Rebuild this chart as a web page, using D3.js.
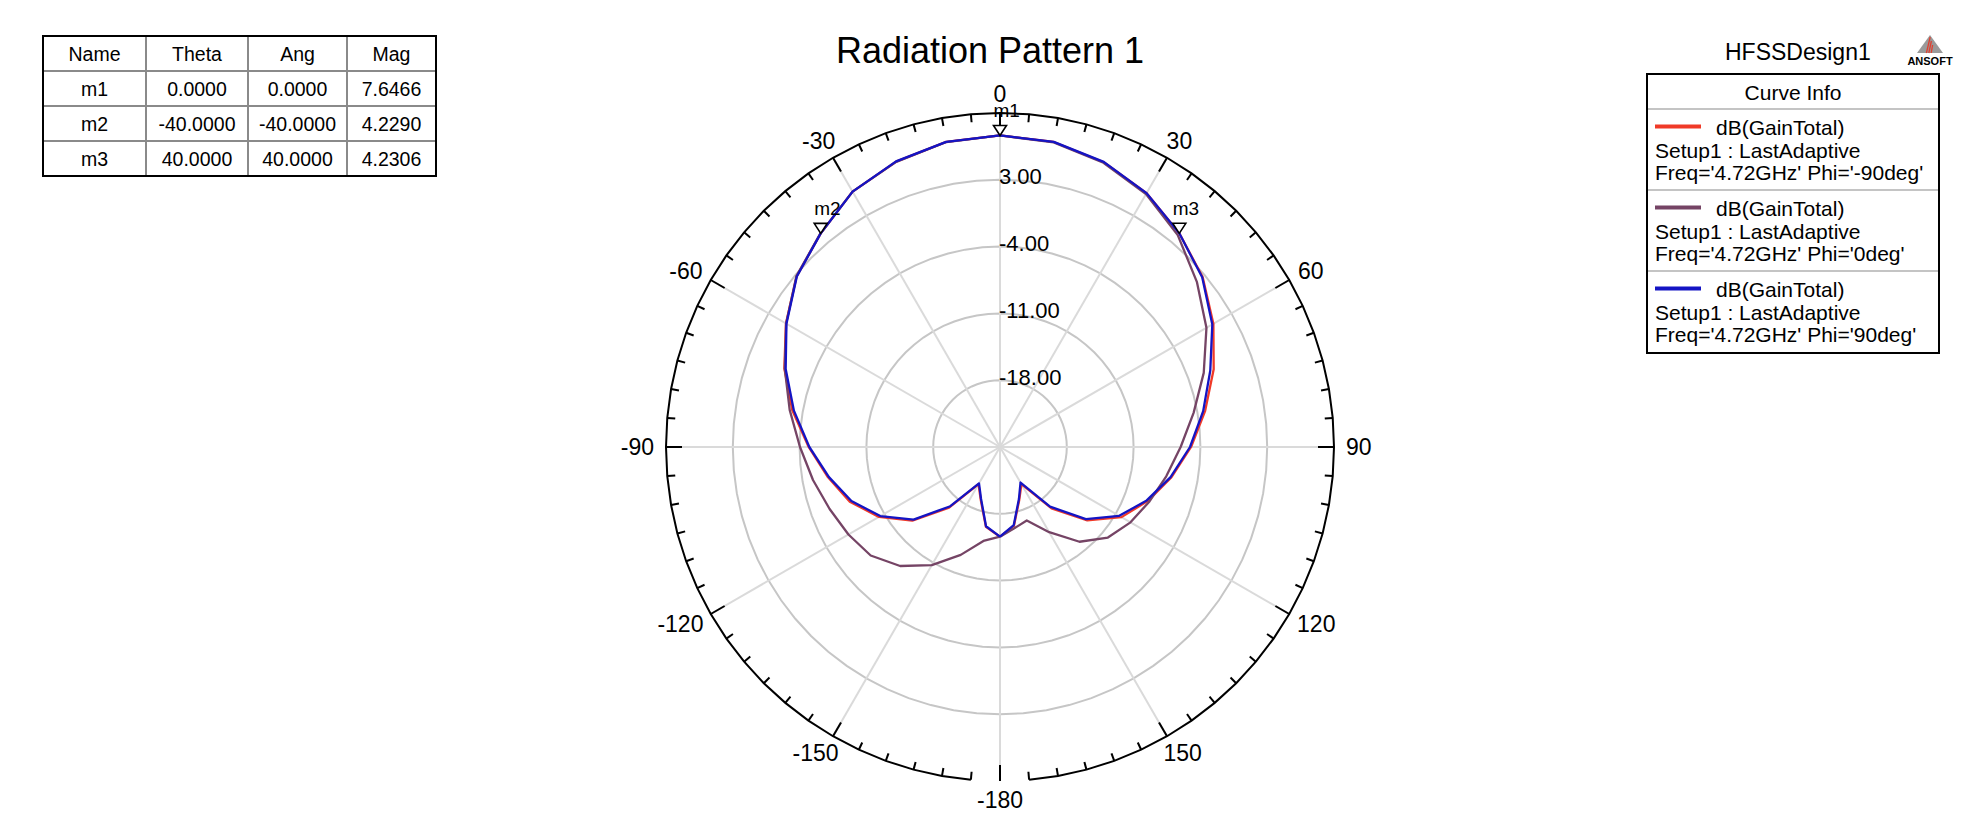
<!DOCTYPE html>
<html>
<head>
<meta charset="utf-8">
<script src="https://cdn.jsdelivr.net/npm/d3@7"></script>
<style>
  body { margin: 0; background: #fff; }
  svg { display: block; font-family: "Liberation Sans", Arial, sans-serif; }
</style>
</head>
<body>
<div id="chart"></div>
<script>
// theta (deg) and gain (dB), one list per phi cut
const thetas = [-180, -170, -160, -150, -140, -130, -120, -110, -100, -90, -80, -70, -60, -50, -40, -30, -20, -10,
  0, 10, 20, 30, 40, 50, 60, 70, 80, 90, 100, 110, 120, 130, 140, 150, 160, 170, 180];

const gainPhiM90 = [-15.6, -16.5, -19.1, -20.5, -16.7, -13.0, -10.35, -8.25, -6.7, -4.95, -2.9, -0.95, 0.9, 2.82, 4.229, 5.9, 6.82, 7.46,
  7.6466, 7.46, 6.76, 5.72, 4.2306, 2.72, 0.82, -1.17, -3.17, -4.98, -6.75, -8.5, -10.3, -13.05, -16.6, -20.5, -19.1, -16.6, -15.6];

const gainPhi0 = [-15.6, -15.0, -12.97, -10.7, -8.72, -7.31, -6.66, -6.0, -5.1, -4.04, -2.62, -1.0, 0.88, 2.85, 4.25, 5.9, 6.8, 7.45,
  7.6466, 7.42, 6.7, 5.6, 3.98, 1.93, -0.02, -2.28, -4.4, -6.07, -7.31, -8.33, -9.21, -10.24, -12.04, -14.69, -16.8, -16.35, -15.6];

const gainPhi90 = [-15.6, -16.57, -19.2, -20.6, -16.9, -13.17, -10.52, -8.43, -6.8, -5.02, -3.07, -1.1, 0.84, 2.79, 4.229, 5.9, 6.85, 7.47,
  7.6466, 7.47, 6.79, 5.72, 4.2306, 2.66, 0.69, -1.55, -3.38, -5.09, -6.85, -8.64, -10.57, -13.25, -16.84, -20.7, -19.2, -16.7, -15.6];

const curveNames = ["dB(GainTotal)", "dB(GainTotal)", "dB(GainTotal)"];
const curveSetups = ["Setup1 : LastAdaptive", "Setup1 : LastAdaptive", "Setup1 : LastAdaptive"];
const curveFreqs = ["Freq='4.72GHz' Phi='-90deg'", "Freq='4.72GHz' Phi='0deg'", "Freq='4.72GHz' Phi='90deg'"];

const markerNames = ["m1", "m2", "m3"];
const markerTheta = [0, -40, 40];
const markerAng = [0, -40, 40];
const markerMag = [7.6466, 4.2290, 4.2306];

const gridLevels = [-18, -11, -4, 3];
const angleTicks = [0, 30, 60, 90, 120, 150, -180, -150, -120, -90, -60, -30];

const title = "Radiation Pattern 1";
const designName = "HFSSDesign1";

// ---- layout
const W = 1988, H = 832;
const cx = 1000, cy = 447, R = 334;
const colors = ["#f03a28", "#754465", "#1414c4"];
const gains = [gainPhiM90, gainPhi0, gainPhi90];

const svg = d3.select('#chart').append('svg')
  .attr('width', W).attr('height', H)
  .attr('viewBox', [0, 0, W, H].join(' '));

const rScale = d3.scaleLinear().domain([-25, 10]).range([0, R]);
const rad = d => d * Math.PI / 180;
// HFSS prints a plain hyphen, not the unicode minus d3 uses
const fixed = n => d => d3.format('.' + n + 'f')(d).replace('\u2212', '-');

// title
svg.append('text')
  .attr('x', 990).attr('y', 63)
  .attr('text-anchor', 'middle')
  .style('font-size', '36px')
  .text(title);

const g = svg.append('g').attr('transform', `translate(${cx},${cy})`);

// concentric grid (drawn as 5 degree polygons like the original)
const ringLine = d3.lineRadial().angle(d => rad(d)).curve(d3.curveLinearClosed);
gridLevels.forEach(lv => {
  g.append('path')
    .attr('d', ringLine.radius(rScale(lv))(d3.range(0, 360, 5)))
    .attr('fill', 'none')
    .attr('stroke', '#c6c6c6')
    .attr('stroke-width', 2);
});

// spokes
g.selectAll('line.spoke')
  .data(d3.range(0, 360, 30))
  .enter().append('line')
    .attr('class', 'spoke')
    .attr('x1', 0).attr('y1', 0)
    .attr('x2', d => R * Math.sin(rad(d)))
    .attr('y2', d => -R * Math.cos(rad(d)))
    .attr('stroke', '#dadada')
    .attr('stroke-width', 2);

// outer ring, open around 180
g.append('path')
  .attr('d', d3.lineRadial().angle(d => rad(d)).radius(R)(d3.range(-175, 176, 5)))
  .attr('fill', 'none')
  .attr('stroke', '#000')
  .attr('stroke-width', 2);

// ticks every 5 degrees, pointing inward
g.selectAll('line.tick')
  .data(d3.range(-180, 180, 5))
  .enter().append('line')
    .attr('class', 'tick')
    .attr('x1', d => R * Math.sin(rad(d)))
    .attr('y1', d => -R * Math.cos(rad(d)))
    .attr('x2', d => (R - (d % 30 === 0 ? 16 : 8)) * Math.sin(rad(d)))
    .attr('y2', d => -(R - (d % 30 === 0 ? 16 : 8)) * Math.cos(rad(d)))
    .attr('stroke', '#000')
    .attr('stroke-width', 2);

// angle labels
angleTicks.forEach(a => {
  const s = Math.sin(rad(a)), c = Math.cos(rad(a));
  const t = g.append('text')
    .style('font-size', '23px')
    .attr('text-anchor', 'middle')
    .attr('dominant-baseline', 'central')
    .text(a);
  const w = t.node().getComputedTextLength();
  const rr = R + 12;
  t.attr('x', rr * s + s * w / 2)
   .attr('y', -rr * c - c * 7);
});

// radial labels
g.selectAll('text.rlab')
  .data(gridLevels)
  .enter().append('text')
    .attr('class', 'rlab')
    .attr('x', -1)
    .attr('y', d => -rScale(d) - 3)
    .attr('dominant-baseline', 'central')
    .style('font-size', '22px')
    .text(fixed(2));

// curves
const curve = d3.lineRadial()
  .angle(d => rad(d[0]))
  .radius(d => rScale(d[1]));

gains.forEach((vals, i) => {
  g.append('path')
    .attr('d', curve(thetas.map((t, j) => [t, vals[j]])))
    .attr('fill', 'none')
    .attr('stroke', colors[i])
    .attr('stroke-width', 2.3)
    .attr('stroke-linejoin', 'round');
});

// markers
markerNames.forEach((m, i) => {
  const r = rScale(markerMag[i]);
  const x = r * Math.sin(rad(markerTheta[i]));
  const y = -r * Math.cos(rad(markerTheta[i]));
  g.append('path')
    .attr('d', `M${x},${y} L${x - 6.5},${y - 10} L${x + 6.5},${y - 10} Z`)
    .attr('fill', '#fff')
    .attr('stroke', '#000')
    .attr('stroke-width', 1.6);
  g.append('text')
    .attr('x', x - 6.5)
    .attr('y', y - 18)
    .style('font-size', '19px')
    .text(m);
});

// ---- marker table
const tableCols = ["Name", "Theta", "Ang", "Mag"];
const colW = [103, 102, 99, 89];
const rowH = 35;
const tx0 = 43, ty0 = 36;
const fmt4 = fixed(4);
const rows = markerNames.map((m, i) => [m, fmt4(markerTheta[i]), fmt4(markerAng[i]), fmt4(markerMag[i])]);
const tbl = svg.append('g').attr('transform', `translate(${tx0},${ty0})`);
const colX = [0];
colW.forEach((w, i) => colX.push(colX[i] + w));
const tW = colX[colX.length - 1], tH = rowH * (rows.length + 1);

for (let i = 1; i < colW.length; i++) {
  tbl.append('line').attr('x1', colX[i]).attr('x2', colX[i]).attr('y1', 0).attr('y2', tH)
    .attr('stroke', '#8a8a8a').attr('stroke-width', 2);
}
for (let j = 1; j <= rows.length; j++) {
  tbl.append('line').attr('x1', 0).attr('x2', tW).attr('y1', j * rowH).attr('y2', j * rowH)
    .attr('stroke', '#8a8a8a').attr('stroke-width', 2);
}
tbl.append('rect').attr('width', tW).attr('height', tH)
  .attr('fill', 'none').attr('stroke', '#000').attr('stroke-width', 2);

[tableCols].concat(rows).forEach((row, j) => {
  row.forEach((cell, i) => {
    tbl.append('text')
      .attr('x', colX[i] + colW[i] / 2)
      .attr('y', j * rowH + rowH / 2 + 7)
      .attr('text-anchor', 'middle')
      .style('font-size', '19.5px')
      .text(cell);
  });
});

// ---- design name + logo
svg.append('text')
  .attr('x', 1725).attr('y', 60)
  .style('font-size', '23px')
  .text(designName);

const logo = svg.append('g').attr('transform', 'translate(1930,35)');
logo.append('path').attr('d', 'M0,0 L13,18 L-13,18 Z').attr('fill', '#9a9a9a');
[4, 8, 12].forEach(k => {
  logo.append('line')
    .attr('x1', -1 + k * 0.3).attr('y1', k - 2)
    .attr('x2', -6 + k * 0.6).attr('y2', 18)
    .attr('stroke', '#e04030').attr('stroke-width', 1.3);
});
logo.append('text')
  .attr('x', 0).attr('y', 30)
  .attr('text-anchor', 'middle')
  .style('font-size', '11px')
  .style('font-weight', 'bold')
  .text('ANSOFT');

// ---- curve info legend
const lx = 1647, ly = 74, lw = 292, lh = 279, entryH = 81;
const leg = svg.append('g').attr('transform', `translate(${lx},${ly})`);
leg.append('text')
  .attr('x', lw / 2).attr('y', 26)
  .attr('text-anchor', 'middle')
  .style('font-size', '21px')
  .text('Curve Info');

curveNames.forEach((name, i) => {
  const y0 = 35 + i * entryH;
  leg.append('line').attr('x1', 0).attr('x2', lw).attr('y1', y0).attr('y2', y0)
    .attr('stroke', '#c4c4c4').attr('stroke-width', 2);
  leg.append('line').attr('x1', 8).attr('x2', 54).attr('y1', y0 + 17.5).attr('y2', y0 + 17.5)
    .attr('stroke', colors[i]).attr('stroke-width', 4);
  leg.append('text').attr('x', 69).attr('y', y0 + 26).style('font-size', '21px').text(name);
  leg.append('text').attr('x', 8).attr('y', y0 + 48.5).style('font-size', '21px').text(curveSetups[i]);
  leg.append('text').attr('x', 8).attr('y', y0 + 71).style('font-size', '21px').text(curveFreqs[i]);
});
leg.append('rect').attr('width', lw).attr('height', lh)
  .attr('fill', 'none').attr('stroke', '#000').attr('stroke-width', 2);
</script>
</body>
</html>
